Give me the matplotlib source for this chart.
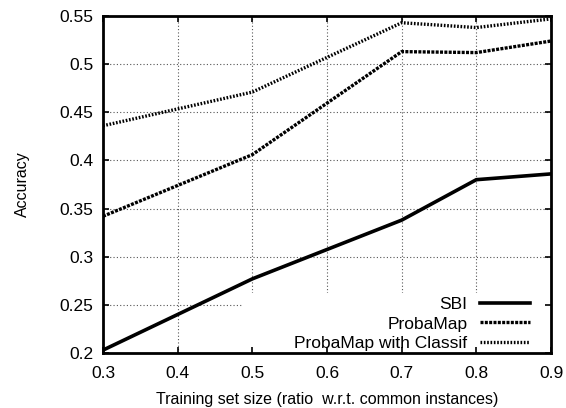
import matplotlib
matplotlib.use("Agg")
import matplotlib.pyplot as plt
from matplotlib.path import Path
from matplotlib.patches import PathPatch

plt.rcParams['font.family'] = ['Liberation Sans', 'DejaVu Sans']

# Data
train_size = [0.3, 0.5, 0.7, 0.8, 0.9]
sbi = [0.203, 0.277, 0.338, 0.380, 0.386]
probamap = [0.342, 0.406, 0.513, 0.512, 0.524]
probamap_classif = [0.436, 0.471, 0.543, 0.538, 0.547]

xticks = [0.3, 0.4, 0.5, 0.6, 0.7, 0.8, 0.9]
xtick_labels = ["0.3", "0.4", "0.5", "0.6", "0.7", "0.8", "0.9"]
yticks = [0.2, 0.25, 0.3, 0.35, 0.4, 0.45, 0.5, 0.55]
ytick_labels = ["0.2", "0.25", "0.3", "0.35", "0.4", "0.45", "0.5", "0.55"]

fig = plt.figure(figsize=(5.66, 4.08), dpi=100)
ax = fig.add_axes([103 / 566, 55 / 408, 448 / 566, 337 / 408])

ax.plot(train_size, sbi, color='black', linewidth=2.6, label='SBI',
        solid_joinstyle='miter')
ax.plot(train_size, probamap, color='black', linewidth=2.4,
        linestyle=(0, (0.9, 0.4)), label='ProbaMap')
ax.plot(train_size, probamap_classif, color='black', linewidth=2.4,
        linestyle=(0, (0.5, 0.5)), label='ProbaMap with Classif')

ax.set_xlim(0.3, 0.9)
ax.set_ylim(0.2, 0.55)
ax.set_xticks(xticks)
ax.set_xticklabels(xtick_labels)
ax.set_yticks(yticks)
ax.set_yticklabels(ytick_labels)

ax.tick_params(direction='in', length=4.5, width=1.2, labelsize=12.5,
               top=True, right=True, pad=7)
ax.tick_params(axis='x', pad=9)
for spine in ax.spines.values():
    spine.set_linewidth(2)

ax.set_axisbelow(True)
ax.grid(True, color='#555555', linestyle=(0, (1, 2)), linewidth=0.8)

ax.set_xlabel("Training set size (ratio  w.r.t. common instances)", fontsize=11.5,
              labelpad=8)
ax.set_ylabel("Accuracy", fontsize=11.5, labelpad=21)

leg = ax.legend(loc='lower right', bbox_to_anchor=(1 - 21 / 448, 2 / 337),
                frameon=False, markerfirst=False, fontsize=12.5,
                handlelength=2.9, handletextpad=0.7, labelspacing=0.25,
                borderpad=0, borderaxespad=0)

# the key box blanks the grid behind it (as gnuplot does)
key_left, key_top = 0.31, 0.178
box_a = Path([(0, key_top), (1, key_top), (1, 1), (0, 1), (0, key_top)], closed=True)
box_b = Path([(0, 0), (key_left, 0), (key_left, key_top), (0, key_top), (0, 0)], closed=True)
clip = PathPatch(Path.make_compound_path(box_a, box_b), transform=ax.transAxes)
for gl in ax.get_xgridlines() + ax.get_ygridlines():
    gl.set_clip_path(clip)

fig.savefig("out.png", dpi=100)
